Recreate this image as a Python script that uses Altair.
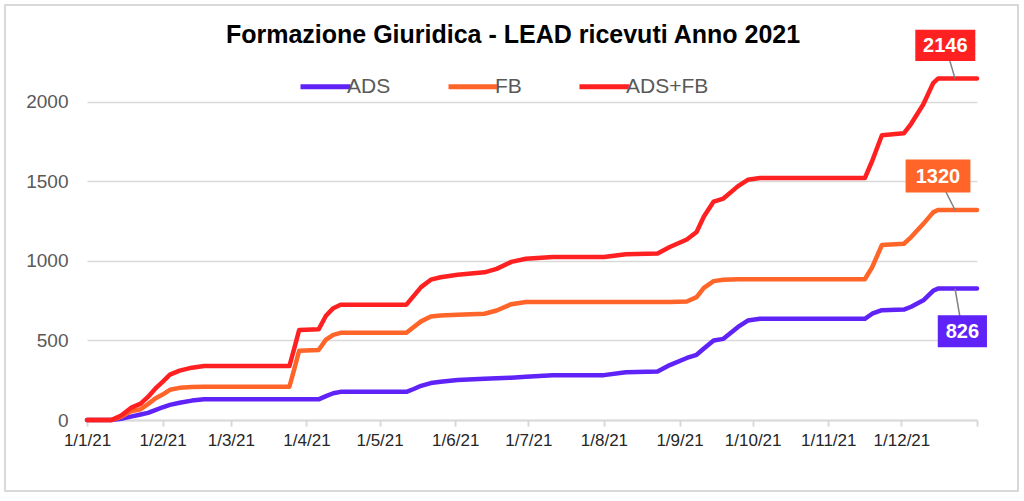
import altair as alt
import pandas as pd

# ---- data ----
dates = ["2021-01-01", "2021-01-11", "2021-01-15", "2021-01-19", "2021-01-23", "2021-01-26",
         "2021-01-29", "2021-02-01", "2021-02-04", "2021-02-08", "2021-02-13", "2021-02-18",
         "2021-03-25", "2021-03-27", "2021-03-29", "2021-04-06", "2021-04-09", "2021-04-12",
         "2021-04-15", "2021-05-12", "2021-05-15", "2021-05-18", "2021-05-22", "2021-05-26",
         "2021-06-02", "2021-06-13", "2021-06-18", "2021-06-24", "2021-06-30", "2021-07-11",
         "2021-08-01", "2021-08-10", "2021-08-23", "2021-08-28", "2021-09-04", "2021-09-08",
         "2021-09-11", "2021-09-15", "2021-09-19", "2021-09-25", "2021-09-29", "2021-10-04",
         "2021-11-16", "2021-11-19", "2021-11-23", "2021-12-02", "2021-12-05", "2021-12-10",
         "2021-12-14", "2021-12-16", "2022-01-01"]
ads = [0, 0, 8, 21, 35, 45, 62, 80, 95, 108, 122, 130,
       130, 130, 130, 130, 150, 168, 177, 177, 195, 215, 232, 240,
       251, 260, 262, 266, 272, 282, 282, 300, 305, 345, 390, 410,
       449, 500, 510, 585, 625, 636, 636, 668, 690, 694, 712, 752,
       812, 826, 826]
fb = [0, 0, 20, 55, 68, 100, 135, 160, 190, 202, 207, 209,
      209, 320, 435, 440, 505, 535, 548, 548, 585, 620, 650, 657,
      662, 668, 688, 728, 742, 742, 742, 742, 742, 742, 745, 772,
      830, 873, 882, 885, 885, 885, 885, 960, 1100, 1108, 1150, 1233,
      1305, 1320, 1320]
ads_fb = [0, 0, 28, 76, 103, 145, 197, 240, 285, 310, 329, 339,
          339, 450, 565, 570, 655, 703, 725, 725, 780, 835, 882, 897,
          913, 928, 950, 994, 1014, 1024, 1024, 1042, 1047, 1087, 1135, 1182,
          1279, 1373, 1392, 1470, 1510, 1521, 1521, 1628, 1790, 1802, 1862, 1985,
          2117, 2146, 2146]

series_names = ["ADS", "FB", "ADS+FB"]
series_colors = ["#5F22F7", "#FF6428", "#FF2121"]

# end-of-line callouts
callout_series = ["ADS+FB", "FB", "ADS"]
callout_text = ["2146", "1320", "826"]
callout_anchor_date = ["2021-12-23", "2021-12-23", "2021-12-23"]
callout_anchor_value = [2146, 1320, 826]
callout_box_date = ["2021-12-19", "2021-12-16", "2021-12-26"]
callout_box_value = [2355, 1533, 558]

month_ticks = [alt.DateTime(year=2021, month=m, date=1, utc=True) for m in range(1, 13)]
month_ticks.append(alt.DateTime(year=2022, month=1, date=1, utc=True))

# ---- tables ----
rows = []
for name, vals in zip(series_names, [ads, fb, ads_fb]):
    for d, v in zip(dates, vals):
        rows.append({"date": d, "serie": name, "value": v})
df = pd.DataFrame(rows)

ann = pd.DataFrame({
    "serie": callout_series,
    "text": callout_text,
    "anchor_date": callout_anchor_date,
    "anchor_value": callout_anchor_value,
    "box_date": callout_box_date,
    "box_value": callout_box_value,
})

FONT = "Liberation Sans"
x_scale = alt.Scale(type="utc",
                    domain=[alt.DateTime(year=2021, month=1, date=1, utc=True),
                            alt.DateTime(year=2022, month=1, date=1, utc=True)])
y_scale = alt.Scale(domain=[0, 2200], nice=False)
color_scale = alt.Scale(domain=series_names, range=series_colors)

x_axis = alt.Axis(values=month_ticks, title=None, grid=False,
                  labelExpr="utcyear(datum.value) > 2021 ? '' : utcFormat(datum.value, '%-d/%-m/%y')",
                  labelFont=FONT, labelFontSize=17, labelColor="#262626",
                  labelFlush=False, labelOverlap=False, labelBound=False,
                  domainColor="#D9D9D9", domainWidth=2,
                  tickColor="#D9D9D9", tickWidth=2, tickSize=6, labelPadding=6)
y_axis = alt.Axis(values=[0, 500, 1000, 1500, 2000], format="d", title=None, domain=False, ticks=False,
                  labelFont=FONT, labelFontSize=19, labelColor="#595959", labelPadding=19,
                  gridColor="#D9D9D9", gridWidth=1.5)

legend = alt.Legend(orient="none", legendX=211, legendY=-11, direction="horizontal", title=None,
                    symbolType="stroke", symbolSize=2500, symbolStrokeWidth=5,
                    labelFont=FONT, labelFontSize=21, labelColor="#595959",
                    labelOffset={"expr": "-6"}, columnPadding=47)

base = alt.Chart(df)

line_layers = []
for name in series_names:
    line_layers.append(
        base.transform_filter(alt.datum.serie == name)
        .mark_line(strokeWidth=4.5, strokeJoin="round", strokeCap="round")
        .encode(
            x=alt.X("date:T", scale=x_scale, axis=x_axis),
            y=alt.Y("value:Q", scale=y_scale, axis=y_axis),
            color=alt.Color("serie:N", scale=color_scale, legend=legend, sort=series_names),
        )
    )

ann_base = alt.Chart(ann)
connectors = ann_base.mark_rule(color="#7F7F7F", strokeWidth=1.5).encode(
    x=alt.X("anchor_date:T", scale=x_scale),
    y=alt.Y("anchor_value:Q", scale=y_scale),
    x2="box_date:T",
    y2="box_value:Q",
)

box_paths = {
    "ADS+FB": "M-1,-0.52H1V0.52H-1Z",
    "FB": "M-1.08,-0.55H1.08V0.55H-1.08Z",
    "ADS": "M-0.82,-0.53H0.82V0.53H-0.82Z",
}
boxes = ann_base.mark_point(filled=True, opacity=1, size=3600, strokeWidth=0).encode(
    x=alt.X("box_date:T", scale=x_scale),
    y=alt.Y("box_value:Q", scale=y_scale),
    fill=alt.Fill("serie:N", scale=alt.Scale(domain=series_names, range=series_colors), legend=None),
    shape=alt.Shape("serie:N", scale=alt.Scale(domain=list(box_paths.keys()),
                                               range=list(box_paths.values())), legend=None),
)
labels = ann_base.mark_text(font=FONT, fontSize=20, fontWeight="bold", color="white",
                            align="center", baseline="middle", dy=1).encode(
    x=alt.X("box_date:T", scale=x_scale),
    y=alt.Y("box_value:Q", scale=y_scale),
    text="text:N",
)

frame = alt.Chart(pd.DataFrame({"k": [0]})).mark_rect(
    fill=None, stroke="#D9D9D9", strokeWidth=2
).encode(x=alt.value(-82), x2=alt.value(931), y=alt.value(-65), y2=alt.value(421))

chart = alt.layer(frame, *line_layers, connectors, boxes, labels).properties(
    width=890, height=350,
    background="white",
    title=alt.TitleParams("Formazione Giuridica - LEAD ricevuti Anno 2021",
                          font=FONT, fontSize=25, fontWeight="bold", color="#000000",
                          anchor="middle", baseline="alphabetic", offset=-64, dx=-19),
    autosize=alt.AutoSizeParams(type="none"),
    padding={"left": 87, "top": 70, "right": 47, "bottom": 81},
).configure_view(stroke=None)

chart.save("out.html", embed_options={"renderer": "svg", "actions": False})
